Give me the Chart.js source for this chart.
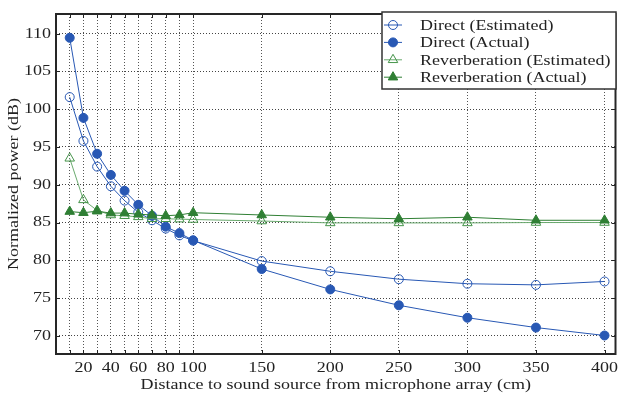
<!DOCTYPE html>
<html>
<head>
<meta charset="utf-8">
<script src="https://cdn.jsdelivr.net/npm/chart.js@4"></script>
<style>
html,body{margin:0;padding:0;background:#fff;}
#wrap{width:622px;height:398px;}
</style>
</head>
<body>
<div id="wrap"><canvas id="c" width="622" height="398"></canvas></div>
<script>
const distances = [10,20,30,40,50,60,70,80,90,100,150,200,250,300,350,400];
const directEstimated = [101.6,95.8,92.4,89.8,87.9,86.35,85.3,84.2,83.3,82.6,79.9,78.55,77.5,76.9,76.75,77.2];
const directActual = [109.45,98.85,94.1,91.3,89.2,87.35,85.9,84.45,83.6,82.65,78.85,76.15,74.05,72.4,71.1,70.05];
const reverbEstimated = [93.5,88.0,86.6,86.0,85.9,85.75,85.5,85.5,85.45,85.4,85.2,84.95,84.95,84.95,85.0,85.0];
const reverbActual = [86.45,86.3,86.5,86.25,86.25,86.1,86.0,85.9,86.0,86.3,86.0,85.7,85.5,85.7,85.3,85.3];
const xGridValues = [10,20,30,40,50,60,70,80,90,100,150,200,250,300,350,400];
const xTickLabels = [20,40,60,80,100,150,200,250,300,350,400];
const yTickValues = [70,75,80,85,90,95,100,105,110];
const seriesLabels = ['Direct (Estimated)','Direct (Actual)','Reverberation (Estimated)','Reverberation (Actual)'];

const BLUE = '#2858b4';
const GREEN = '#2f7f34';
const GREEN_EST = '#45944a';
const GREEN_EST_LINE = '#6aaa6e';
const FONT = "'Liberation Serif', 'DejaVu Serif', serif";
const TEXT_STRETCH = 1.2;

// Times-like text in the reference is horizontally wider: stretch glyphs along their baseline.
const canvas = document.getElementById('c');
const ctx2d = canvas.getContext('2d');
const origFillText = ctx2d.fillText.bind(ctx2d);
ctx2d.fillText = function(t, x, y, mw){
  this.save();
  this.translate(x, y);
  this.scale(TEXT_STRETCH, 1);
  origFillText(t, 0, 0);
  this.restore();
};

function pts(ys){ return distances.map((x,i)=>({x:x,y:ys[i]})); }

const legendStyles = [
  {color:BLUE, line:BLUE, shape:'circle', fill:false},
  {color:BLUE, line:BLUE, shape:'circle', fill:true},
  {color:GREEN_EST, line:GREEN_EST_LINE, shape:'triangle', fill:false},
  {color:GREEN, line:GREEN, shape:'triangle', fill:true}
];

function drawMarker(ctx, shape, x, y, r, color, fill){
  ctx.save();
  ctx.beginPath();
  if(shape==='circle'){
    ctx.arc(x,y,r,0,Math.PI*2);
  } else {
    ctx.moveTo(x, y - r);
    ctx.lineTo(x + r*0.866, y + r*0.5);
    ctx.lineTo(x - r*0.866, y + r*0.5);
    ctx.closePath();
  }
  ctx.lineWidth = 1;
  ctx.strokeStyle = color;
  if(fill){ ctx.fillStyle = color; ctx.fill(); }
  ctx.stroke();
  ctx.restore();
}

const framePlugin = {
  id:'frameAndLegend',
  afterDraw(chart){
    const ctx = chart.ctx;
    const a = chart.chartArea;
    const xs = chart.scales.x, ys = chart.scales.y;
    ctx.save();
    ctx.strokeStyle = '#222';
    ctx.lineWidth = 1;
    ctx.beginPath();
    xGridValues.forEach(v=>{
      const px = Math.round(xs.getPixelForValue(v))+0.5;
      ctx.moveTo(px, a.bottom); ctx.lineTo(px, a.bottom-4);
      ctx.moveTo(px, a.top); ctx.lineTo(px, a.top+4);
    });
    yTickValues.forEach(v=>{
      const py = Math.round(ys.getPixelForValue(v))+0.5;
      ctx.moveTo(a.left, py); ctx.lineTo(a.left+4, py);
      ctx.moveTo(a.right, py); ctx.lineTo(a.right-4, py);
    });
    ctx.stroke();
    ctx.lineWidth = 2;
    ctx.strokeStyle = '#262626';
    ctx.strokeRect(a.left, a.top, a.right-a.left, a.bottom-a.top);
    // legend
    const lx = 382, ly = 12, lw = 234, lh = 77;
    ctx.fillStyle = '#fff';
    ctx.fillRect(lx, ly, lw, lh);
    ctx.lineWidth = 1.5;
    ctx.strokeStyle = '#333';
    ctx.strokeRect(lx, ly, lw, lh);
    ctx.font = "15px " + FONT;
    ctx.textBaseline = 'middle';
    ctx.textAlign = 'left';
    chart.data.datasets.forEach((ds, i)=>{
      const st = legendStyles[i];
      const y = ly + 13 + i*17.4;
      ctx.beginPath();
      ctx.strokeStyle = st.line; ctx.lineWidth = 1;
      ctx.moveTo(lx+2, y); ctx.lineTo(lx+20, y); ctx.stroke();
      drawMarker(ctx, st.shape, lx+11, y, st.shape==='circle'?4.5:5.5, st.color, st.fill);
      ctx.fillStyle = '#222';
      ctx.fillText(ds.label, lx+38, y+1);
    });
    ctx.restore();
  }
};

new Chart(canvas, {
  type:'line',
  data:{
    datasets:[
      {label:seriesLabels[0], data:pts(directEstimated), borderColor:BLUE, borderWidth:1,
       pointStyle:'circle', pointRadius:4.5, pointBorderColor:BLUE, pointBackgroundColor:'rgba(0,0,0,0)', pointBorderWidth:1, order:4},
      {label:seriesLabels[1], data:pts(directActual), borderColor:BLUE, borderWidth:1,
       pointStyle:'circle', pointRadius:4.5, pointBorderColor:BLUE, pointBackgroundColor:BLUE, pointBorderWidth:1, order:3},
      {label:seriesLabels[2], data:pts(reverbEstimated), borderColor:GREEN_EST_LINE, borderWidth:1,
       pointStyle:'triangle', pointRadius:5.5, pointBorderColor:GREEN_EST, pointBackgroundColor:'rgba(0,0,0,0)', pointBorderWidth:1, order:2},
      {label:seriesLabels[3], data:pts(reverbActual), borderColor:GREEN, borderWidth:1,
       pointStyle:'triangle', pointRadius:5.5, pointBorderColor:GREEN, pointBackgroundColor:GREEN, pointBorderWidth:1, order:1}
    ]
  },
  options:{
    responsive:false,
    animation:false,
    devicePixelRatio:1,
    layout:{padding:{top:5,right:4,left:0,bottom:0}},
    plugins:{legend:{display:false}, tooltip:{enabled:false}},
    scales:{
      x:{
        type:'linear', min:0, max:408,
        afterBuildTicks(s){ s.ticks = xGridValues.map(v=>({value:v})); },
        afterFit(s){ s.height = 44; },
        ticks:{
          autoSkip:false, maxRotation:0, minRotation:0, padding:5,
          color:'#222', font:{family:FONT, size:15},
          callback(v){ return xTickLabels.includes(v) ? String(v) : ''; }
        },
        grid:{color:'#555', lineWidth:1, drawTicks:false},
        border:{display:false, dash:[1,2]},
        title:{display:true, text:'Distance to sound source from microphone array (cm)', color:'#222',
               font:{family:FONT, size:15}, padding:{top:0,bottom:4}}
      },
      y:{
        type:'linear', min:67.6, max:112.6,
        afterBuildTicks(s){ s.ticks = yTickValues.map(v=>({value:v})); },
        afterFit(s){ s.width = 56; },
        ticks:{padding:5, color:'#222', font:{family:FONT, size:15}},
        grid:{color:'#444', lineWidth:1, drawTicks:false},
        border:{display:false, dash:[1,2]},
        title:{display:true, text:'Normalized power (dB)', color:'#222',
               font:{family:FONT, size:15}, padding:{top:5,bottom:0}}
      }
    }
  },
  plugins:[framePlugin]
});
</script>
</body>
</html>
